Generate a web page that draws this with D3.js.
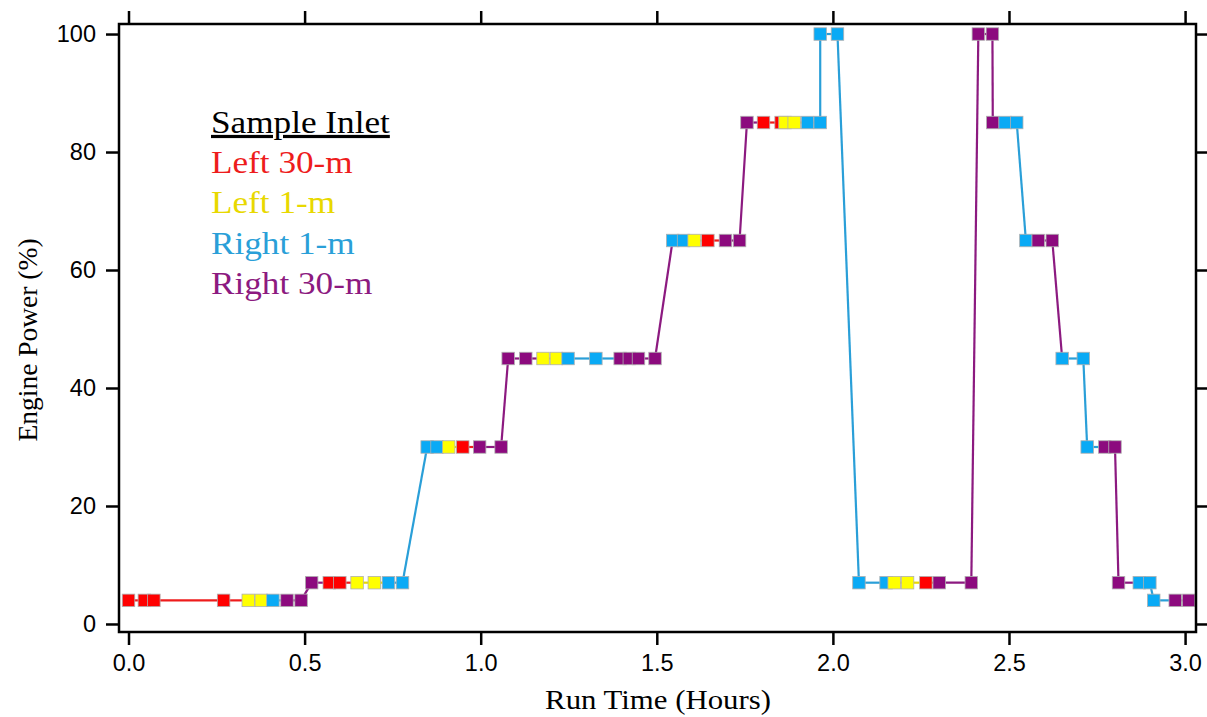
<!DOCTYPE html>
<html lang="en">
<head>
<meta charset="UTF-8"/>
<script src="https://d3js.org/d3.v7.min.js"></script>
<title>Engine Power vs Run Time</title>
<style>
  body { margin: 0; background: #fff; }
  .tick text { font-family: "Liberation Sans", Arial, sans-serif; font-size: 23.5px; fill: #000; }
</style>
</head>
<body>
<script type="text/javascript">
// run time (hours), engine power (%), and sample inlet for each sample
var runTime = [0.00, 0.045, 0.072, 0.27, 0.34, 0.377, 0.41, 0.45, 0.49,
               0.52, 0.57, 0.60, 0.649, 0.698, 0.738, 0.778,
               0.848, 0.876, 0.909, 0.949, 0.997, 1.058,
               1.078, 1.128, 1.177, 1.215, 1.248, 1.327, 1.396, 1.422, 1.448, 1.495,
               1.545, 1.576, 1.606, 1.645, 1.695, 1.735,
               1.756, 1.803, 1.853, 1.864, 1.89, 1.928, 1.964,
               1.964, 2.013,
               2.074, 2.151, 2.174, 2.212, 2.264, 2.302, 2.393,
               2.413, 2.453,
               2.454, 2.489, 2.522,
               2.548, 2.583, 2.623,
               2.651, 2.711,
               2.722, 2.772, 2.801,
               2.811, 2.87, 2.90,
               2.911, 2.972, 3.01];
var enginePower = [4, 4, 4, 4, 4, 4, 4, 4, 4,
                   7, 7, 7, 7, 7, 7, 7,
                   30, 30, 30, 30, 30, 30,
                   45, 45, 45, 45, 45, 45, 45, 45, 45, 45,
                   65, 65, 65, 65, 65, 65,
                   85, 85, 85, 85, 85, 85, 85,
                   100, 100,
                   7, 7, 7, 7, 7, 7, 7,
                   100, 100,
                   85, 85, 85,
                   65, 65, 65,
                   45, 45,
                   30, 30, 30,
                   7, 7, 7,
                   4, 4, 4];
var inlet = ["L30", "L30", "L30", "L30", "L1", "L1", "R1", "R30", "R30",
             "R30", "L30", "L30", "L1", "L1", "R1", "R1",
             "R1", "R1", "L1", "L30", "R30", "R30",
             "R30", "R30", "L1", "L1", "R1", "R1", "R30", "R30", "R30", "R30",
             "R1", "R1", "L1", "L30", "R30", "R30",
             "R30", "L30", "L30", "L1", "L1", "R1", "R1",
             "R1", "R1",
             "R1", "R1", "L1", "L1", "L30", "R30", "R30",
             "R30", "R30",
             "R30", "R1", "R1",
             "R1", "R30", "R30",
             "R1", "R1",
             "R1", "R30", "R30",
             "R30", "R1", "R1",
             "R1", "R30", "R30"];

var inletKeys   = ["L30", "L1", "R1", "R30"];
var inletLabels = ["Left 30-m", "Left 1-m", "Right 1-m", "Right 30-m"];
var xTicks = [0, 0.5, 1, 1.5, 2, 2.5, 3];
var yTicks = [0, 20, 40, 60, 80, 100];

var colour = d3.scaleOrdinal()
               .domain(inletKeys)
               .range(["#ff0000", "#ffff00", "#0aaaf5", "#8c0a7e"]);
var lineColour = d3.scaleOrdinal()
               .domain(inletKeys)
               .range(["#ee1c1c", "#e8d800", "#2a9fd8", "#8c1a80"]);

var w = 1207, h = 717;
var plotLeft = 119, plotRight = 1196, plotTop = 24, plotBottom = 632;

var dataset = runTime.map(function(t, i) {
    return { t: t, p: enginePower[i], inlet: inlet[i] };
});

var xScale = d3.scaleLinear().domain([-0.027, 3.031]).range([plotLeft, plotRight]);
var yScale = d3.scaleLinear().domain([-1.36, 101.7]).range([plotBottom, plotTop]);

var svg = d3.select("body").append("svg")
            .attr("width", w)
            .attr("height", h);

// connecting segments, coloured by the sample they start from
var line = d3.line()
             .x(function(d) { return xScale(d.t); })
             .y(function(d) { return yScale(d.p); });

svg.append("g")
   .selectAll("path")
   .data(d3.pairs(dataset))
   .enter()
   .append("path")
   .attr("d", function(d) { return line(d); })
   .attr("fill", "none")
   .attr("stroke", function(d) { return lineColour(d[0].inlet); })
   .attr("stroke-width", 2.2);

// square markers
var s = 12.5;
svg.append("g")
   .selectAll("rect")
   .data(dataset)
   .enter()
   .append("rect")
   .attr("x", function(d) { return xScale(d.t) - s / 2; })
   .attr("y", function(d) { return yScale(d.p) - s / 2; })
   .attr("width", s)
   .attr("height", s)
   .attr("fill", function(d) { return colour(d.inlet); })
   .attr("stroke", "#b0b0b0")
   .attr("stroke-width", 0.8);

// frame
svg.append("rect")
   .attr("x", plotLeft).attr("y", plotTop)
   .attr("width", plotRight - plotLeft).attr("height", plotBottom - plotTop)
   .attr("fill", "none")
   .attr("stroke", "#000")
   .attr("stroke-width", 2.5);

// axes, ticks outside the frame on all four sides
var tickLen = 13;
function thick(g) {
    g.select(".domain").remove();
    g.selectAll("line").attr("stroke-width", 2.5);
}

svg.append("g")
   .attr("transform", "translate(0," + plotBottom + ")")
   .call(d3.axisBottom(xScale).tickValues(xTicks).tickFormat(d3.format(".1f"))
           .tickSize(tickLen).tickPadding(9))
   .call(thick);

svg.append("g")
   .attr("transform", "translate(0," + plotTop + ")")
   .call(d3.axisTop(xScale).tickValues(xTicks).tickFormat("").tickSize(tickLen))
   .call(thick);

svg.append("g")
   .attr("transform", "translate(" + plotLeft + ",0)")
   .call(d3.axisLeft(yScale).tickValues(yTicks).tickSize(tickLen).tickPadding(10))
   .call(thick);

svg.append("g")
   .attr("transform", "translate(" + plotRight + ",0)")
   .call(d3.axisRight(yScale).tickValues(yTicks).tickFormat("").tickSize(tickLen))
   .call(thick);

// axis titles
svg.append("text")
   .attr("transform", "translate(658,709) scale(1.1,1)")
   .attr("text-anchor", "middle")
   .style("font-family", "'Liberation Serif', 'Times New Roman', serif")
   .style("font-size", "28px")
   .text("Run Time (Hours)");

svg.append("text")
   .attr("transform", "translate(37,340) rotate(-90)")
   .attr("text-anchor", "middle")
   .style("font-family", "'Liberation Serif', 'Times New Roman', serif")
   .style("font-size", "27.5px")
   .text("Engine Power (%)");

// legend
var legend = svg.append("g")
   .attr("transform", "translate(211,0) scale(1.1,1)")
   .style("font-family", "'Liberation Serif', 'Times New Roman', serif")
   .style("font-size", "32px");

legend.append("text")
   .attr("x", 0).attr("y", 133)
   .style("text-decoration", "underline")
   .attr("fill", "#000")
   .text("Sample Inlet");

legend.selectAll("text.item")
   .data(inletKeys)
   .enter()
   .append("text")
   .attr("class", "item")
   .attr("x", 0)
   .attr("y", function(d, i) { return 173 + i * 40.5; })
   .attr("fill", function(d) { return lineColour(d); })
   .text(function(d, i) { return inletLabels[i]; });
</script>
</body>
</html>
